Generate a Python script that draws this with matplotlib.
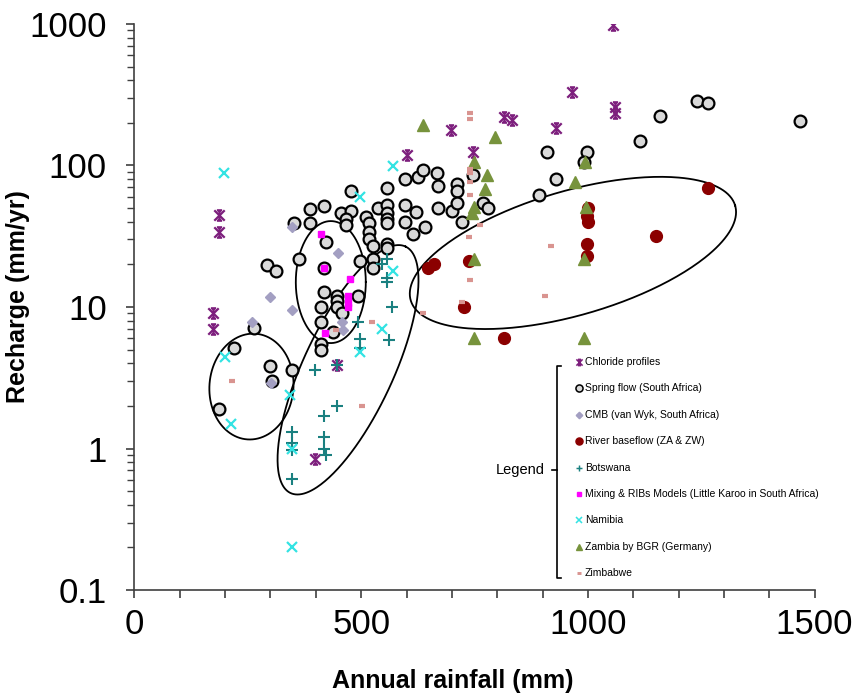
import numpy as np
import matplotlib.pyplot as plt
from matplotlib.lines import Line2D
from matplotlib.path import Path
from matplotlib.ticker import MultipleLocator, FuncFormatter, LogLocator, NullFormatter

plt.rcParams['font.family'] = ['Liberation Sans', 'DejaVu Sans']

# Values (rainfall mm, recharge mm/yr)
chloride_x = [174, 174, 186, 186, 398, 446, 601, 747, 697, 815, 832, 930, 965, 1056, 1060, 1060]
chloride_y = [9.1, 7.0, 45, 34, 0.84, 3.9, 119, 124, 178, 220, 210, 183, 330, 980, 260, 235]

spring_x = [187, 220, 264, 292, 312, 299, 304, 348, 352,
            388, 418, 388, 456, 478, 467, 467, 478, 511, 518, 517, 517, 526, 526, 526,
            537, 557, 557, 557, 557, 557, 557, 557, 597, 597, 597, 622, 626, 637, 641, 615,
            498, 422, 362, 419, 419, 446, 446, 446, 412, 458, 493, 412, 438, 412, 412,
            668, 669, 712, 712, 747, 669, 701, 712, 769, 779, 723,
            910, 998, 991, 930, 893, 1115, 1160, 1241, 1265, 1468]
spring_y = [1.9, 5.1, 7.1, 19.8, 18, 3.8, 3.0, 3.6, 39,
            49, 52, 39, 46, 48, 42, 38, 66, 43, 39, 34, 30, 27, 22, 19,
            50, 69, 53, 46, 42, 39, 28, 26, 80, 53, 40, 47, 83, 93, 37, 33,
            21, 29, 22, 19, 12.8, 12, 11, 10, 10, 9.1, 12, 7.8, 6.7, 5.5, 5.0,
            89, 72, 74, 66, 85, 50, 48, 54, 54, 50, 40,
            124, 124, 105, 80, 62, 148, 225, 286, 276, 207]

cmb_x = [348, 449, 299, 348, 259, 458, 461, 301]
cmb_y = [37, 24, 11.8, 9.6, 7.8, 7.8, 6.9, 2.9]

river_x = [648, 660, 737, 727, 814, 1001, 998, 1001, 999, 997, 1150, 1265]
river_y = [19, 20, 21, 10, 6.0, 50, 44, 40, 28, 23, 31.6, 69]

botswana_x = [557, 546, 557, 557, 568, 493, 498, 498, 562, 398, 446, 446, 419,
              348, 348, 348, 419, 419, 422, 348]
botswana_y = [22, 20, 16, 15, 10, 7.8, 5.9, 5.1, 5.8, 3.6, 3.9, 2.0, 1.7,
              1.3, 1.1, 0.98, 1.2, 1.0, 0.9, 0.61]

mixing_x = [412, 476, 472, 472, 472, 420, 419]
mixing_y = [33, 15.8, 12, 10.7, 10, 6.5, 19]

namibia_x = [197, 571, 498, 571, 546, 498, 342, 199, 213, 348, 348]
namibia_y = [88, 99, 60, 18, 7.0, 4.8, 2.4, 4.4, 1.5, 1.0, 0.2]

zambia_x = [637, 795, 748, 777, 773, 748, 745, 994, 972, 996, 748, 992, 748, 992]
zambia_y = [193, 158, 105, 86, 68, 51, 46, 105, 76, 51, 22, 22, 6.0, 6.0]

zimbabwe_x = [215, 524, 444, 502, 637, 740, 741, 739, 739, 763, 738, 739, 722,
              919, 906, 740, 740]
zimbabwe_y = [3.0, 7.8, 6.9, 2.0, 9.1, 94, 89, 76, 62, 38, 31, 15.5, 10.8,
              27, 12, 236, 214]

legend_labels = ['Chloride profiles', 'Spring flow (South Africa)',
                 'CMB (van Wyk, South Africa)', 'River baseflow (ZA & ZW)',
                 'Botswana', 'Mixing & RIBs Models (Little Karoo in South Africa)',
                 'Namibia', 'Zambia by BGR (Germany)', 'Zimbabwe']

# ellipse groupings: centre (mm, mm/yr), semi-axes in pixels, angle in degrees
ellipses = [(258, 2.74, 42, 53, -5),
            (433, 15.0, 35, 61, 0),
            (471, 3.6, 136, 45, 65),
            (967, 24.1, 169, 62, 16.3)]

# Excel-like star: an X with a vertical stroke and short caps
star = Path([(-1, -1), (1, 1), (-1, 1), (1, -1), (0, -1), (0, 1),
             (-0.5, 1), (0.5, 1), (-0.5, -1), (0.5, -1)],
            [Path.MOVETO, Path.LINETO] * 5)

fig = plt.figure(figsize=(8.62, 6.93), dpi=100)
ax = fig.add_axes([0.156, 0.1486, 0.789, 0.8168])
ax.set_yscale('log')
ax.set_xlim(0, 1500)
ax.set_ylim(0.1, 1000)

styles = [
    dict(marker=star, color='#7d1f7d', ms=7.5, mew=1.6, ls='none'),
    dict(marker='o', mfc='#d9d9d9', mec='black', ms=8.5, mew=1.6, ls='none'),
    dict(marker='D', color='#a39fc2', ms=5.5, ls='none'),
    dict(marker='o', color='#8b0000', ms=8.5, ls='none'),
    dict(marker='+', color='#1a8080', ms=8, mew=1.5, ls='none'),
    dict(marker='s', color='#ff00ff', ms=4.5, ls='none'),
    dict(marker='x', color='#33e3e3', ms=7, mew=1.6, ls='none'),
    dict(marker='^', color='#77933c', ms=8, ls='none'),
    dict(marker='_', color='#d99490', ms=5, mew=3, ls='none'),
]
series = [(chloride_x, chloride_y), (spring_x, spring_y), (cmb_x, cmb_y),
          (river_x, river_y), (botswana_x, botswana_y), (mixing_x, mixing_y),
          (namibia_x, namibia_y), (zambia_x, zambia_y), (zimbabwe_x, zimbabwe_y)]
order = [1, 2, 3, 7, 8, 4, 6, 5, 0]
for i in order:
    ax.plot(series[i][0], series[i][1], zorder=3 + i * 0.1, **styles[i])

# ellipses drawn in display space so they stay round on the log axis
t = np.linspace(0, 2 * np.pi, 300)
inv = ax.transData.inverted()
for cx, cy, a, b, ang in ellipses:
    c = ax.transData.transform((cx, cy))
    th = np.radians(ang)
    px = c[0] + a * np.cos(t) * np.cos(th) - b * np.sin(t) * np.sin(th)
    py = c[1] + a * np.cos(t) * np.sin(th) + b * np.sin(t) * np.cos(th)
    d = inv.transform(np.column_stack([px, py]))
    ax.plot(d[:, 0], d[:, 1], color='black', lw=1.3, zorder=2)

for s in ['top', 'right']:
    ax.spines[s].set_visible(False)
for s in ['left', 'bottom']:
    ax.spines[s].set_color('#404040')
    ax.spines[s].set_linewidth(1.2)

ax.xaxis.set_major_locator(MultipleLocator(100))
ax.xaxis.set_major_formatter(FuncFormatter(lambda v, p: '%d' % v if v % 500 == 0 else ''))
ax.yaxis.set_major_locator(LogLocator(base=10))
ax.yaxis.set_minor_locator(LogLocator(base=10, subs=np.arange(2, 10)))
ax.yaxis.set_minor_formatter(NullFormatter())
ax.yaxis.set_major_formatter(FuncFormatter(lambda v, p: '%g' % v))
ax.tick_params(axis='x', direction='out', length=6, width=1.2, color='#404040',
               labelsize=25, pad=7)
ax.tick_params(axis='y', which='major', direction='out', length=6, width=1.2,
               color='#404040', labelsize=25, pad=14)
ax.tick_params(axis='y', which='minor', direction='out', length=5, width=1.0,
               color='#404040')

ax.set_xlabel('Annual rainfall (mm)', fontsize=18, fontweight='bold', x=0.468, labelpad=20)
ax.set_ylabel('Recharge (mm/yr)', fontsize=18, fontweight='bold')
ax.yaxis.set_label_coords(-0.154, 0.518)

# hand-made legend with a bracket
W, H = 862.0, 693.0
def fx(p):
    return p / W
def fy(p):
    return 1 - p / H

for k, i in enumerate(range(9)):
    yy = 362 + k * 26.4
    st = dict(styles[i])
    st['ms'] = st['ms'] * 0.6
    if 'mew' in st:
        st['mew'] = st['mew'] * 0.7
    fig.add_artist(Line2D([fx(579)], [fy(yy)], transform=fig.transFigure, **st))
    fig.text(fx(585), fy(yy), legend_labels[i], fontsize=7.5, va='center', ha='left')

fig.text(fx(496), fy(470), 'Legend', fontsize=10.5, va='center', ha='left')
bx = 557
fig.add_artist(Line2D([fx(bx + 4), fx(bx), fx(bx), fx(bx + 4)],
                      [fy(366), fy(366), fy(578), fy(578)],
                      transform=fig.transFigure, color='black', lw=1.2))
fig.add_artist(Line2D([fx(bx - 5), fx(bx)], [fy(470), fy(470)],
                      transform=fig.transFigure, color='black', lw=1.2))

fig.savefig('out.png', dpi=100)
